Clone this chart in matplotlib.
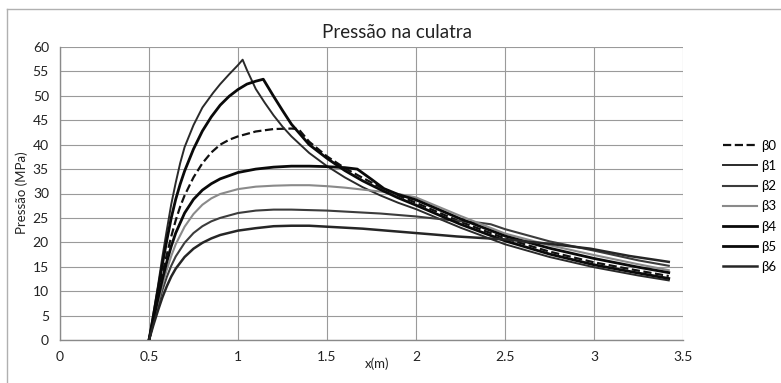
import matplotlib
matplotlib.use('Agg')
import matplotlib.pyplot as plt
from matplotlib.lines import Line2D

plt.rcParams['font.family'] = ['Lato', 'DejaVu Sans']

# pressure curves, x in metres, pressure in MPa
x_b0 = [0.5, 0.525, 0.55, 0.575, 0.6, 0.625, 0.65, 0.675, 0.7, 0.75, 0.8, 0.85,
        0.9, 0.95, 1.0, 1.1, 1.2, 1.3, 1.34, 1.4, 1.5, 1.6, 1.7, 1.8, 1.9, 2.0,
        2.25, 2.5, 2.75, 3.0, 3.25, 3.42]
p_b0 = [0, 4.2, 9, 13.5, 17.5, 21.2, 24.5, 27.3, 29.6, 33.3, 36.2, 38.4,
        40.0, 41.0, 41.7, 42.7, 43.2, 43.3, 43.2, 40.6, 37.6, 35.2, 33.2, 31.3,
        29.6, 28.1, 24.2, 20.8, 18.1, 15.9, 14.2, 13.1]

x_b1 = [0.5, 0.525, 0.55, 0.575, 0.6, 0.625, 0.65, 0.675, 0.7, 0.75, 0.8, 0.86,
        0.9, 0.95, 1.0, 1.026, 1.05, 1.1, 1.15, 1.2, 1.25, 1.3, 1.4, 1.5, 1.6,
        1.7, 1.8, 1.9, 2.0, 2.25, 2.5, 2.75, 3.0, 3.25, 3.42]
p_b1 = [0, 5.5, 11, 17, 22.5, 27.8, 32.2, 36.2, 39.5, 44.0, 47.6, 50.6,
        52.4, 54.4, 56.3, 57.4, 55.3, 51.4, 48.6, 46.0, 43.7, 41.7, 38.3, 35.6,
        33.3, 31.3, 29.6, 28.1, 26.8, 23.0, 19.6, 17.0, 14.9, 13.2, 12.2]

x_b2 = [0.5, 0.525, 0.55, 0.575, 0.6, 0.625, 0.65, 0.7, 0.75, 0.8, 0.85, 0.9,
        1.0, 1.1, 1.2, 1.3, 1.4, 1.5, 1.6, 1.7, 1.8, 1.9, 2.0, 2.1, 2.23, 2.36,
        2.42, 2.5, 2.75, 3.0, 3.25, 3.42]
p_b2 = [0, 3.5, 7, 10.2, 12.9, 15.2, 17.1, 19.9, 21.9, 23.3, 24.3, 25.0,
        26.0, 26.5, 26.7, 26.7, 26.6, 26.5, 26.3, 26.1, 25.9, 25.6, 25.3, 24.9,
        24.4, 24.0, 23.7, 22.7, 20.2, 18.3, 16.3, 15.2]

x_b3 = [0.5, 0.525, 0.55, 0.575, 0.6, 0.625, 0.65, 0.7, 0.75, 0.8, 0.85, 0.9,
        1.0, 1.1, 1.2, 1.3, 1.4, 1.5, 1.6, 1.7, 1.8, 1.9, 2.0, 2.25, 2.5, 2.75,
        3.0, 3.25, 3.42]
p_b3 = [0, 3.8, 7.6, 11.2, 14.4, 17.2, 19.6, 23.2, 25.8, 27.7, 29.0, 29.9,
        30.9, 31.4, 31.6, 31.7, 31.7, 31.5, 31.2, 30.8, 30.4, 29.9, 29.2, 25.4,
        21.8, 19.4, 17.4, 15.5, 14.3]

x_b4 = [0.5, 0.525, 0.55, 0.575, 0.6, 0.625, 0.65, 0.7, 0.75, 0.8, 0.85, 0.9,
        1.0, 1.1, 1.2, 1.3, 1.4, 1.5, 1.6, 1.67, 1.75, 1.82, 1.9, 2.0, 2.25,
        2.5, 2.75, 3.0, 3.25, 3.42]
p_b4 = [0, 4.2, 8.4, 12.4, 16.0, 19.2, 21.9, 26.0, 28.8, 30.7, 32.0, 33.0,
        34.3, 35.0, 35.4, 35.6, 35.6, 35.5, 35.3, 35.0, 32.9, 31.0, 29.8, 28.7,
        24.8, 21.3, 18.8, 16.7, 14.9, 13.8]

x_b5 = [0.5, 0.525, 0.55, 0.575, 0.6, 0.625, 0.65, 0.675, 0.7, 0.75, 0.8, 0.85,
        0.9, 0.95, 1.0, 1.05, 1.1, 1.142, 1.2, 1.25, 1.3, 1.4, 1.5, 1.6, 1.7,
        1.8, 1.9, 2.0, 2.25, 2.5, 2.75, 3.0, 3.25, 3.42]
p_b5 = [0, 5, 10.2, 15.5, 20.4, 25.0, 28.8, 31.9, 34.6, 39.1, 42.8, 45.7,
        48.1, 49.9, 51.3, 52.4, 53.0, 53.4, 49.9, 47.0, 44.2, 40.0, 37.2, 34.7,
        32.6, 30.8, 29.1, 27.6, 23.7, 20.3, 17.6, 15.4, 13.7, 12.6]

x_b6 = [0.5, 0.525, 0.55, 0.575, 0.6, 0.625, 0.65, 0.7, 0.75, 0.8, 0.85, 0.9,
        1.0, 1.1, 1.2, 1.3, 1.4, 1.5, 1.6, 1.7, 1.8, 1.9, 2.0, 2.1, 2.23, 2.5,
        2.75, 2.98, 3.2, 3.42]
p_b6 = [0, 3.1, 6.0, 8.7, 11.0, 13.0, 14.6, 17.0, 18.7, 19.9, 20.8, 21.5,
        22.4, 22.9, 23.3, 23.4, 23.4, 23.2, 23.0, 22.8, 22.5, 22.2, 21.9, 21.6,
        21.2, 20.6, 19.7, 18.7, 17.2, 16.0]

labels = ['β0', 'β1', 'β2', 'β3', 'β4', 'β5', 'β6']
xs = [x_b0, x_b1, x_b2, x_b3, x_b4, x_b5, x_b6]
ps = [p_b0, p_b1, p_b2, p_b3, p_b4, p_b5, p_b6]
colors = ['#111111', '#2a2a2a', '#3c3c3c', '#8a8a8a', '#0a0a0a', '#0a0a0a', '#262626']
widths = [1.6, 1.4, 1.5, 1.5, 2.0, 2.0, 1.8]
styles = ['--', '-', '-', '-', '-', '-', '-']

fig = plt.figure(figsize=(7.81, 3.83), dpi=100)
fig.patch.set_facecolor('white')
W, H = 781, 383
ax = fig.add_axes([60 / W, 1 - 340 / H, 623 / W, 293 / H])

for x, p, lab, c, lw, ls in zip(xs, ps, labels, colors, widths, styles):
    ax.plot(x, p, color=c, lw=lw, ls=ls, label=lab, zorder=3)

ax.set_xlim(0, 3.5)
ax.set_ylim(0, 60)
ax.set_xticks([0, 0.5, 1, 1.5, 2, 2.5, 3, 3.5])
ax.set_xticklabels(['0', '0.5', '1', '1.5', '2', '2.5', '3', '3.5'])
ax.set_yticks(range(0, 61, 5))
ax.grid(True, color='#9a9a9a', lw=0.8)
ax.set_axisbelow(True)
for side in ['top', 'right']:
    ax.spines[side].set_visible(False)
for side in ['left', 'bottom']:
    ax.spines[side].set_color('#8a8a8a')
    ax.spines[side].set_linewidth(1.0)
ax.tick_params(length=0, labelsize=10, colors='#222222', pad=8)

fig.text(397 / W, 1 - 33 / H, 'Pressão na culatra', ha='center', va='center',
         fontsize=13.5, color='#222222')
fig.text(22 / W, 1 - 193 / H, 'Pressão (MPa)', rotation=90, ha='center',
         va='center', fontsize=9.5, color='#222222')
fig.text(377 / W, 1 - 364 / H, 'x(m)', ha='center', va='center', fontsize=9.5,
         color='#222222')

leg = ax.legend(loc='upper left', bbox_to_anchor=(711 / W, 1 - 128 / H),
                bbox_transform=fig.transFigure, frameon=False, fontsize=9.5,
                handlelength=2.6, handletextpad=0.3, labelspacing=0.62)

# outer chart border
fig.add_artist(Line2D([7 / W, 1], [1 - 9 / H, 1 - 9 / H], color='#b0b0b0', lw=1.0))
fig.add_artist(Line2D([7 / W, 7 / W], [0, 1 - 9 / H], color='#b0b0b0', lw=1.0))

fig.savefig('out.png', dpi=100, facecolor='white')
